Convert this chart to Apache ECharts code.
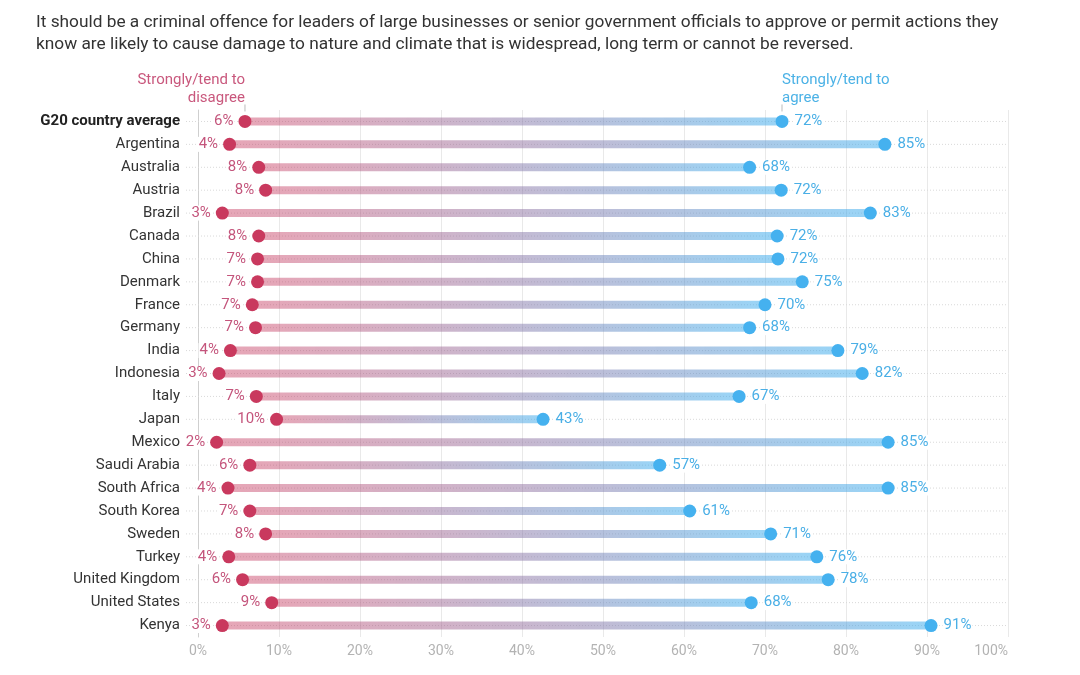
<!DOCTYPE html>
<html>
<head>
<meta charset="utf-8">
<script src="https://cdn.jsdelivr.net/npm/echarts@6/dist/echarts.min.js"></script>
<style>
html,body{margin:0;padding:0;background:#fff;}
#title{position:absolute;left:36px;top:10px;font-family:Roboto,"Noto Sans",sans-serif;font-size:17.3px;line-height:22px;color:#333;white-space:nowrap;}
#chart{position:absolute;left:0;top:0;width:1080px;height:675px;}
</style>
</head>
<body>
<div id="chart"></div>
<div id="title">It should be a criminal offence for leaders of large businesses or senior government officials to approve or permit actions they<br>know are likely to cause damage to nature and climate that is widespread, long term or cannot be reversed.</div>
<script>
var countries = ["G20 country average","Argentina","Australia","Austria","Brazil","Canada","China","Denmark","France","Germany","India","Indonesia","Italy","Japan","Mexico","Saudi Arabia","South Africa","South Korea","Sweden","Turkey","United Kingdom","United States","Kenya"];
// dot positions
var disagree = [5.8,3.9,7.5,8.35,3.0,7.5,7.35,7.35,6.7,7.1,4.0,2.6,7.2,9.7,2.3,6.4,3.7,6.4,8.35,3.8,5.5,9.1,3.0];
var agree = [72.1,84.8,68.1,72.0,83.0,71.5,71.6,74.6,70.0,68.1,79.0,82.0,66.8,42.6,85.2,57.0,85.2,60.7,70.7,76.4,77.8,68.3,90.5];
// printed labels
var disagreeLabels = [6,4,8,8,3,8,7,7,7,7,4,3,7,10,2,6,4,7,8,4,6,9,3];
var agreeLabels = [72,85,68,72,83,72,72,75,70,68,79,82,67,43,85,57,85,61,71,76,78,68,91];
var xTicks = [0,10,20,30,40,50,60,70,80,90,100];

var RED = '#c9395e', BLUE = '#45b1ef';
var chart = echarts.init(document.getElementById('chart'));
var font = 'Roboto, "Noto Sans", sans-serif';

var rangeData = countries.map(function(c,i){ return [i, disagree[i], agree[i]]; });

var option = {
  animation:false,
  grid:{left:198, right:72, top:110, bottom:38, containLabel:false},
  xAxis:{
    type:'value', min:xTicks[0], max:xTicks[xTicks.length-1], interval:10,
    axisLine:{show:false}, axisTick:{show:false},
    splitLine:{lineStyle:{color:'#e9e9e9', width:1}},
    axisLabel:{formatter:'{value}%', color:'#b3b3b3', fontSize:14, fontFamily:font, margin:7, alignMaxLabel:'right'}
  },
  yAxis:{
    type:'category', data:countries, inverse:true,
    axisLine:{show:true, lineStyle:{color:'#cfcfcf'}}, axisTick:{show:false},
    axisLabel:{
      margin:18, fontFamily:font, fontSize:15, color:'#333',
      formatter:function(v,i){ return i===0 ? '{b|'+v+'}' : v; },
      rich:{b:{fontWeight:'bold', fontSize:15, fontFamily:font, color:'#222'}}
    }
  },
  series:[
    {
      type:'custom', z:1,
      data:rangeData,
      encode:{y:0, x:[1,2]},
      renderItem:function(params, api){
        var idx = api.value(0);
        var lo = api.coord([api.value(1), idx]);
        var hi = api.coord([api.value(2), idx]);
        var z0 = api.coord([0, idx]);
        var z100 = api.coord([100, idx]);
        return {type:'group', children:[
          {type:'line', shape:{x1:z0[0]-12, y1:lo[1], x2:z100[0], y2:lo[1]},
           style:{stroke:'#d9d9d9', lineWidth:1, lineDash:[1,2]}},
          {type:'rect', shape:{x:lo[0], y:lo[1]-4, width:hi[0]-lo[0], height:8},
           style:{fill:new echarts.graphic.LinearGradient(0,0,1,0,[
             {offset:0,color:'rgba(201,57,94,0.45)'},
             {offset:1,color:'rgba(69,177,239,0.55)'}])}}
        ]};
      }
    },
    {
      type:'scatter', z:3, symbolSize:13,
      itemStyle:{color:RED, opacity:1},
      data:disagree.map(function(v,i){ return [v, countries[i], disagreeLabels[i]]; }),
      label:{show:true, position:'left', distance:4, formatter:function(p){return p.value[2]+'%';},
        color:'#c4557c', fontSize:15, fontFamily:font, backgroundColor:'#fff', padding:[0,1]}
    },
    {
      type:'scatter', z:3, symbolSize:13,
      itemStyle:{color:BLUE, opacity:1},
      data:agree.map(function(v,i){ return [v, countries[i], agreeLabels[i]]; }),
      label:{show:true, position:'right', distance:5, formatter:function(p){return p.value[2]+'%';},
        color:'#4aafe6', fontSize:15, fontFamily:font, backgroundColor:'#fff', padding:[0,1]}
    }
  ]
};
chart.setOption(option);

var pR = chart.convertToPixel({gridIndex:0}, [disagree[0], countries[0]]);
var pB = chart.convertToPixel({gridIndex:0}, [agree[0], countries[0]]);
chart.setOption({graphic:[
  {type:'text', x:pR[0], y:pR[1]-50, style:{text:'Strongly/tend to\ndisagree', fill:'#c9587d', font:'15px '+font, align:'right', verticalAlign:'top', lineHeight:18}},
  {type:'line', shape:{x1:pR[0], y1:pR[1]-17, x2:pR[0], y2:pR[1]-10}, style:{stroke:'#bbb', lineWidth:1}},
  {type:'text', x:pB[0], y:pB[1]-50, style:{text:'Strongly/tend to\nagree', fill:'#4cb2e6', font:'15px '+font, align:'left', verticalAlign:'top', lineHeight:18}},
  {type:'line', shape:{x1:pB[0], y1:pB[1]-17, x2:pB[0], y2:pB[1]-10}, style:{stroke:'#bbb', lineWidth:1}}
]});
</script>
</body>
</html>
